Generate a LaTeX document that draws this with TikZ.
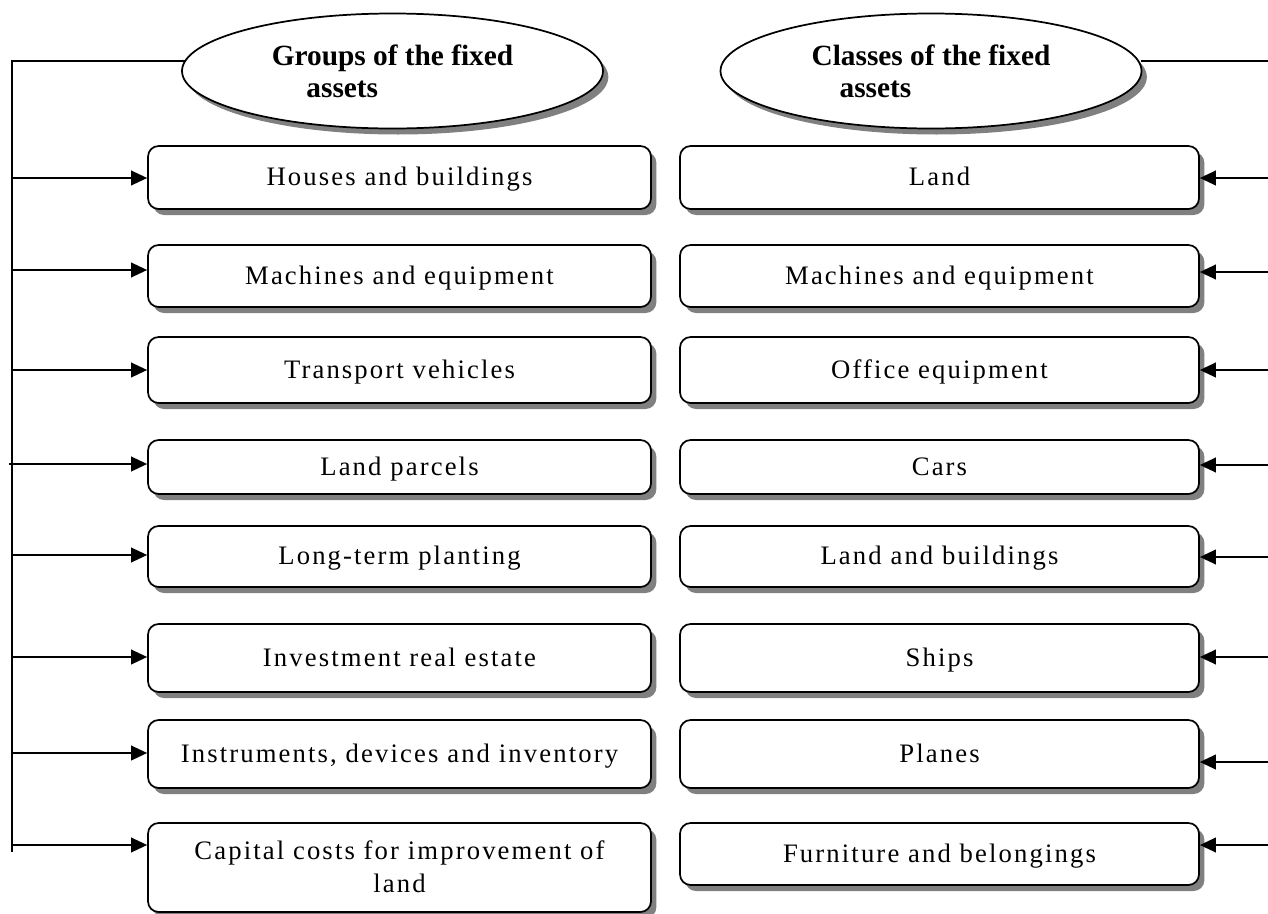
\documentclass[tikz,border=0pt]{standalone}
\usepackage{fontspec}
\setmainfont{Liberation Serif}
\newfontfamily\boxfont[LetterSpace=8]{Liberation Serif}
\usetikzlibrary{shapes.geometric,shadows,arrows.meta}

\begin{document}
\begin{tikzpicture}[x=0.75pt,y=-0.75pt,
  line width=1.3pt,
  sh/.style={drop shadow={shadow xshift=4pt,shadow yshift=-4.5pt,fill=black!50,opacity=1}},
  title/.style={ellipse,draw,fill=white,sh,minimum width=315.75pt,minimum height=86.25pt,
    inner sep=0pt,font=\fontsize{22}{24}\selectfont\bfseries,align=left},
  item/.style={rectangle,rounded corners=8pt,draw,fill=white,sh,inner sep=0pt,
    text height=15.5pt,text depth=3pt,
    font=\boxfont\fontsize{20}{25}\selectfont,align=center},
  lbox/.style={item,minimum width=377.25pt},
  rbox/.style={item,minimum width=389.25pt},
  feed/.style={-{Triangle[length=12pt,width=11pt]}}
]
\useasboundingbox (0,0) rectangle (1268,914);

% headings
\node[title] (L) at (392.5,71) {Groups of the fixed\\\hspace*{26pt}assets};
\node[title] (R) at (931,71) {Classes of the fixed\\\hspace*{21pt}assets};

% groups of the fixed assets
\node[lbox,minimum height=47.25pt] (L1) at (399.5,177.5) {Houses and buildings};
\node[lbox,minimum height=46.5pt]  (L2) at (399.5,276)   {Machines and equipment};
\node[lbox,minimum height=49.5pt]  (L3) at (399.5,370)   {Transport vehicles};
\node[lbox,minimum height=40.5pt]  (L4) at (399.5,467)   {Land parcels};
\node[lbox,minimum height=45.75pt] (L5) at (399.5,556.5) {Long-term planting};
\node[lbox,minimum height=51pt]    (L6) at (399.5,658)   {Investment real estate};
\node[lbox,minimum height=51pt]    (L7) at (399.5,754)   {Instruments, devices and inventory};
\node[lbox,minimum height=66.75pt,text height=40.5pt] (L8) at (399.5,867.5)
  {Capital costs for improvement of\\land};

% classes of the fixed assets
\node[rbox,minimum height=47.25pt] (R1) at (939.5,177.5) {Land};
\node[rbox,minimum height=46.5pt]  (R2) at (939.5,276)   {Machines and equipment};
\node[rbox,minimum height=49.5pt]  (R3) at (939.5,370)   {Office equipment};
\node[rbox,minimum height=40.5pt]  (R4) at (939.5,467)   {Cars};
\node[rbox,minimum height=45.75pt] (R5) at (939.5,556.5) {Land and buildings};
\node[rbox,minimum height=51pt]    (R6) at (939.5,658)   {Ships};
\node[rbox,minimum height=51pt]    (R7) at (939.5,754)   {Planes};
\node[rbox,minimum height=46.5pt]  (R8) at (939.5,854)   {Furniture and belongings};

% left bus
\coordinate (ltop) at (12,61);
\coordinate (lbot) at (12,852);
\draw (ltop -| L.177.5) -- (ltop) -- (lbot);
\coordinate (la1) at (12,178);
\coordinate (la2) at (12,270);
\coordinate (la3) at (12,370);
\coordinate (la4) at (9,464);
\coordinate (la5) at (12,555);
\coordinate (la6) at (12,657);
\coordinate (la7) at (12,753);
\coordinate (la8) at (12,845);
\foreach \i in {1,...,8}{\draw[feed] (la\i) -- (la\i -| L\i.west);}

% right feeds
\coordinate (rtop) at (1268,61);
\draw (rtop -| R.2.5) -- (rtop);
\coordinate (ra1) at (1268,178);
\coordinate (ra2) at (1268,272);
\coordinate (ra3) at (1268,370);
\coordinate (ra4) at (1268,465);
\coordinate (ra5) at (1268,557);
\coordinate (ra6) at (1268,657);
\coordinate (ra7) at (1268,762);
\coordinate (ra8) at (1268,845);
\foreach \i in {1,...,8}{\draw[feed] (ra\i) -- (ra\i -| R\i.east);}
\end{tikzpicture}
\end{document}
